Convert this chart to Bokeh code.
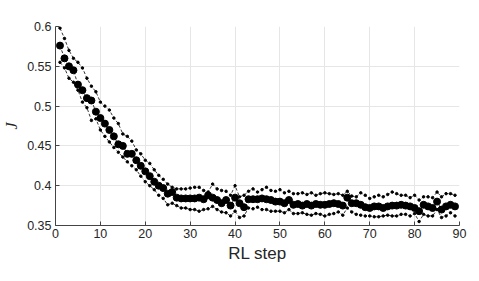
from bokeh.plotting import figure
from bokeh.embed import file_html
from bokeh.resources import INLINE
from bokeh.models import FixedTicker

steps = list(range(1, 90))

mean_j = [0.576, 0.560, 0.550, 0.545, 0.527, 0.520, 0.510, 0.507, 0.493, 0.485,
          0.478, 0.470, 0.462, 0.452, 0.450, 0.440, 0.440, 0.432, 0.425, 0.418,
          0.412, 0.405, 0.400, 0.397, 0.390, 0.392, 0.385, 0.384, 0.384, 0.384,
          0.384, 0.385, 0.383, 0.388, 0.385, 0.382, 0.378, 0.382, 0.375, 0.385,
          0.378, 0.373, 0.383, 0.383, 0.383, 0.384, 0.383, 0.382, 0.380, 0.380,
          0.378, 0.382, 0.376, 0.377, 0.375, 0.377, 0.375, 0.377, 0.376, 0.376,
          0.377, 0.378, 0.377, 0.375, 0.385, 0.378, 0.378, 0.376, 0.373, 0.372,
          0.374, 0.374, 0.372, 0.374, 0.375, 0.375, 0.376, 0.375, 0.374, 0.372,
          0.368, 0.376, 0.374, 0.372, 0.380, 0.370, 0.374, 0.376, 0.374]

upper_j = [0.598, 0.585, 0.570, 0.560, 0.555, 0.548, 0.535, 0.525, 0.518, 0.505,
           0.500, 0.495, 0.485, 0.478, 0.465, 0.462, 0.456, 0.445, 0.440, 0.432,
           0.428, 0.420, 0.413, 0.408, 0.402, 0.398, 0.396, 0.396, 0.396, 0.397,
           0.398, 0.398, 0.394, 0.392, 0.402, 0.396, 0.394, 0.393, 0.388, 0.400,
           0.386, 0.388, 0.393, 0.396, 0.392, 0.395, 0.398, 0.394, 0.393, 0.395,
           0.391, 0.393, 0.390, 0.390, 0.391, 0.389, 0.391, 0.388, 0.390, 0.391,
           0.390, 0.389, 0.390, 0.388, 0.393, 0.387, 0.386, 0.391, 0.388, 0.384,
           0.386, 0.388, 0.386, 0.389, 0.392, 0.390, 0.388, 0.388, 0.385, 0.388,
           0.382, 0.386, 0.386, 0.385, 0.392, 0.386, 0.390, 0.390, 0.388]

lower_j = [0.555, 0.548, 0.535, 0.530, 0.520, 0.505, 0.498, 0.482, 0.484, 0.470,
           0.462, 0.455, 0.448, 0.442, 0.436, 0.430, 0.425, 0.420, 0.412, 0.405,
           0.400, 0.395, 0.388, 0.384, 0.376, 0.378, 0.375, 0.372, 0.372, 0.370,
           0.370, 0.368, 0.370, 0.371, 0.374, 0.370, 0.367, 0.366, 0.362, 0.368,
           0.360, 0.362, 0.372, 0.371, 0.373, 0.370, 0.370, 0.368, 0.368, 0.368,
           0.366, 0.370, 0.365, 0.365, 0.366, 0.364, 0.363, 0.365, 0.364, 0.362,
           0.364, 0.365, 0.367, 0.363, 0.372, 0.367, 0.364, 0.363, 0.362, 0.362,
           0.361, 0.361, 0.362, 0.363, 0.362, 0.362, 0.364, 0.364, 0.362, 0.365,
           0.355, 0.364, 0.362, 0.362, 0.370, 0.360, 0.362, 0.366, 0.362]

x_ticks = [0, 10, 20, 30, 40, 50, 60, 70, 80, 90]
y_ticks = [0.35, 0.4, 0.45, 0.5, 0.55, 0.6]

p = figure(width=478, height=265, output_backend="svg", toolbar_location=None,
           x_range=(0, 90), y_range=(0.35, 0.6),
           min_border_left=53, min_border_right=19, min_border_top=26, min_border_bottom=39)
p.outline_line_color = None
p.background_fill_color = "white"
p.border_fill_color = "white"

for series in (upper_j, lower_j):
    p.line(steps, series, line_color="black", line_width=0.8, line_dash="3 2")
    p.scatter(steps, series, size=2.5, color="black")

p.line(steps, mean_j, line_color="black", line_width=0.8, line_dash="3 2")
p.scatter(steps, mean_j, size=7, color="black")

for ax in (p.xaxis[0], p.yaxis[0]):
    ax.axis_line_color = "#444444"
    ax.major_tick_line_color = "#444444"
    ax.major_tick_in = 4
    ax.major_tick_out = 0
    ax.minor_tick_line_color = None
    ax.major_label_text_font = "Liberation Sans"
    ax.major_label_text_font_size = "12.5px"
    ax.major_label_text_color = "#262626"

p.xaxis[0].ticker = FixedTicker(ticks=x_ticks)
p.yaxis[0].ticker = FixedTicker(ticks=y_ticks)
p.xaxis[0].major_label_overrides = {t: str(t) for t in x_ticks}
p.yaxis[0].major_label_overrides = {t: ("%g" % t) for t in y_ticks}
p.xaxis[0].major_label_standoff = 3
p.yaxis[0].major_label_standoff = 4

p.xaxis[0].axis_label = "RL step"
p.xaxis[0].axis_label_text_font = "Liberation Sans"
p.xaxis[0].axis_label_text_font_size = "17px"
p.xaxis[0].axis_label_text_font_style = "normal"
p.xaxis[0].axis_label_text_color = "#262626"
p.xaxis[0].axis_label_standoff = 3

p.yaxis[0].axis_label = "J"
p.yaxis[0].axis_label_text_font = "Liberation Serif"
p.yaxis[0].axis_label_text_font_size = "16px"
p.yaxis[0].axis_label_text_font_style = "italic"
p.yaxis[0].axis_label_text_color = "#262626"
p.yaxis[0].axis_label_standoff = 4

p.xgrid.grid_line_color = "#e6e6e6"
p.ygrid.grid_line_color = "#e6e6e6"
p.xgrid.ticker = FixedTicker(ticks=x_ticks)
p.ygrid.ticker = FixedTicker(ticks=y_ticks)

open("out.html", "w").write(file_html(p, INLINE))
